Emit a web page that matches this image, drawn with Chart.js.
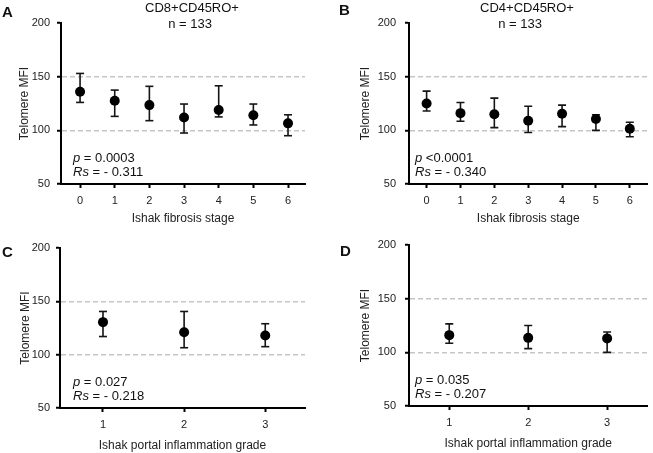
<!DOCTYPE html>
<html>
<head>
<meta charset="utf-8">
<script src="https://cdn.jsdelivr.net/npm/chart.js@4.4.1/dist/chart.umd.min.js"></script>
<style>
  html, body { margin: 0; padding: 0; background: #fff; }
  #wrap { position: relative; width: 653px; height: 453px; overflow: hidden; }
  .panel { position: absolute; }
</style>
</head>
<body>
<div id="wrap">
  <div class="panel" style="left:0px;top:0px"><canvas id="chartA" width="326" height="226"></canvas></div>
  <div class="panel" style="left:326px;top:0px"><canvas id="chartB" width="327" height="226"></canvas></div>
  <div class="panel" style="left:0px;top:226px"><canvas id="chartC" width="326" height="227"></canvas></div>
  <div class="panel" style="left:326px;top:226px"><canvas id="chartD" width="327" height="227"></canvas></div>
</div>
<script>
// --- data ---
const fibrosisStages = [0, 1, 2, 3, 4, 5, 6];
const inflammationGrades = [1, 2, 3];
const yTicks = [50, 100, 150, 200];
const refLines = [100, 150];

// A: CD8+CD45RO+ vs fibrosis stage
const cd8StageMean = [136, 127.5, 123.5, 112, 119, 114, 106.5];
const cd8StageLow  = [126, 113, 109, 97.5, 112.5, 105, 95];
const cd8StageHigh = [153, 137.5, 141, 124.5, 141.5, 124.5, 114.5];

// B: CD4+CD45RO+ vs fibrosis stage
const cd4StageMean = [125, 116, 115, 109, 115.5, 110.5, 101.5];
const cd4StageLow  = [118, 108.5, 102.5, 98, 103.5, 100, 94];
const cd4StageHigh = [136.5, 126, 130, 122.5, 123.5, 114.5, 107.5];

// C: CD8+CD45RO+ vs portal inflammation grade
const cd8GradeMean = [130.5, 121, 118];
const cd8GradeLow  = [117, 106.5, 107.5];
const cd8GradeHigh = [140.5, 140.5, 129];

// D: CD4+CD45RO+ vs portal inflammation grade
const cd4GradeMean = [116, 113.5, 113];
const cd4GradeLow  = [108.5, 103.5, 100];
const cd4GradeHigh = [126.5, 125, 119];

const pTexts  = ['= 0.0003', '<0.0001', '= 0.027', '= 0.035'];
const rsTexts = ['= - 0.311', '= - 0.340', '= - 0.218', '= - 0.207'];

const FONT = "'Liberation Sans', Arial, Helvetica, sans-serif";

// error bar as one broken line: low -> high, then a null to cut the segment
function errorPoints(xs, lows, highs) {
  const pts = [];
  xs.forEach((x, i) => {
    pts.push({ x: x, y: lows[i] }, { x: x, y: highs[i] }, { x: x, y: null });
  });
  return pts;
}

function drawRich(ctx, parts, x, y) {
  parts.forEach(p => {
    ctx.font = p[0] + ' 13px ' + FONT;
    ctx.fillText(p[1], x, y);
    x += ctx.measureText(p[1]).width;
  });
}

// panel letter, header and stats text
const panelText = {
  id: 'panelText',
  afterDraw(chart, args, opts) {
    const ctx = chart.ctx;
    const area = chart.chartArea;
    ctx.save();
    ctx.fillStyle = '#111';
    ctx.textAlign = 'left';
    ctx.textBaseline = 'alphabetic';
    ctx.font = 'bold 15px ' + FONT;
    ctx.fillText(opts.letter, opts.letterX, opts.letterY);

    ctx.font = '13px ' + FONT;
    ctx.textAlign = 'center';
    ctx.textBaseline = 'middle';
    (opts.header || []).forEach(h => ctx.fillText(h.text, h.x, h.y));

    ctx.textAlign = 'left';
    ctx.textBaseline = 'alphabetic';
    const sx = area.left + opts.statsDx;
    drawRich(ctx, [['italic', 'p'], ['normal', ' ' + opts.p]], sx, area.bottom - 22);
    drawRich(ctx, [['italic', 'Rs'], ['normal', ' ' + opts.rs]], sx, area.bottom - 8);
    ctx.restore();
  }
};

function makePanel(id, c) {
  return new Chart(document.getElementById(id), {
    type: 'scatter',
    data: {
      datasets: [
        {
          label: 'mean',
          data: c.xs.map((x, i) => ({ x: x, y: c.mean[i] })),
          pointRadius: 5,
          pointStyle: 'circle',
          pointBackgroundColor: '#000',
          pointBorderWidth: 0,
          showLine: false
        },
        {
          label: 'range',
          data: errorPoints(c.xs, c.low, c.high),
          showLine: true,
          spanGaps: false,
          borderColor: '#151515',
          borderWidth: 1.6,
          pointStyle: 'line',
          pointRadius: 4,
          pointBorderColor: '#151515',
          pointBorderWidth: 1.6
        }
      ]
    },
    options: {
      responsive: false,
      animation: false,
      events: [],
      layout: { padding: { top: c.padTop, right: c.padRight, left: 0, bottom: 0 } },
      plugins: {
        legend: { display: false },
        tooltip: { enabled: false },
        panelText: c.text
      },
      scales: {
        x: {
          type: 'linear',
          min: c.xMin,
          max: c.xMax,
          afterBuildTicks: s => { s.ticks = c.xs.map(v => ({ value: v })); },
          afterFit: s => { s.height = c.xHeight; },
          grid: { display: true, drawOnChartArea: false, tickLength: 4, tickWidth: 2, tickColor: '#000' },
          border: { color: '#000', width: 2 },
          ticks: { padding: 6, color: '#222', font: { family: FONT, size: 11 } },
          title: {
            display: true, text: c.xTitle, color: '#222',
            font: { family: FONT, size: 12 }, padding: { top: 0, bottom: c.xTitlePad }
          }
        },
        y: {
          min: 50,
          max: 200,
          afterBuildTicks: s => { s.ticks = yTicks.map(v => ({ value: v })); },
          afterFit: s => { s.width = c.yWidth; },
          grid: {
            color: ctx => (ctx.tick && refLines.includes(ctx.tick.value)) ? '#c6c6c6' : 'rgba(0,0,0,0)',
            lineWidth: 1.5,
            tickLength: 4, tickWidth: 2, tickColor: '#000'
          },
          border: { color: '#000', width: 2, dash: [5, 3] },
          ticks: { padding: c.yTickPad, color: '#222', font: { family: FONT, size: 11 } },
          title: {
            display: true, text: 'Telomere MFI', color: '#222',
            font: { family: FONT, size: 12 }, padding: { top: c.yTitlePad, bottom: 0 }
          }
        }
      }
    },
    plugins: [panelText]
  });
}

makePanel('chartA', {
  xs: fibrosisStages, mean: cd8StageMean, low: cd8StageLow, high: cd8StageHigh,
  xMin: -0.55, xMax: 6.49, xTitle: 'Ishak fibrosis stage',
  padTop: 23, padRight: 21, yWidth: 61, yTickPad: 7, yTitlePad: 17, xHeight: 42, xTitlePad: 0,
  text: {
    letter: 'A', letterX: 2, letterY: 17, statsDx: 12, p: pTexts[0], rs: rsTexts[0],
    header: [{ text: 'CD8+CD45RO+', x: 192, y: 8 }, { text: 'n = 133', x: 190, y: 24 }]
  }
});

makePanel('chartB', {
  xs: fibrosisStages, mean: cd4StageMean, low: cd4StageLow, high: cd4StageHigh,
  xMin: -0.52, xMax: 6.52, xTitle: 'Ishak fibrosis stage',
  padTop: 23, padRight: 0, yWidth: 83, yTickPad: 9, yTitlePad: 32, xHeight: 42, xTitlePad: 0,
  text: {
    letter: 'B', letterX: 13, letterY: 15, statsDx: 6, p: pTexts[1], rs: rsTexts[1],
    header: [{ text: 'CD4+CD45RO+', x: 201, y: 8 }, { text: 'n = 133', x: 194, y: 24 }]
  }
});

makePanel('chartC', {
  xs: inflammationGrades, mean: cd8GradeMean, low: cd8GradeLow, high: cd8GradeHigh,
  xMin: 0.47, xMax: 3.49, xTitle: 'Ishak portal inflammation grade',
  padTop: 22, padRight: 21, yWidth: 60, yTickPad: 6, yTitlePad: 18, xHeight: 45, xTitlePad: 0,
  text: {
    letter: 'C', letterX: 2, letterY: 31, statsDx: 13, p: pTexts[2], rs: rsTexts[2], header: []
  }
});

makePanel('chartD', {
  xs: inflammationGrades, mean: cd4GradeMean, low: cd4GradeLow, high: cd4GradeHigh,
  xMin: 0.49, xMax: 3.51, xTitle: 'Ishak portal inflammation grade',
  padTop: 19, padRight: 0, yWidth: 83, yTickPad: 9, yTitlePad: 32, xHeight: 47, xTitlePad: 2,
  text: {
    letter: 'D', letterX: 14, letterY: 30, statsDx: 6, p: pTexts[3], rs: rsTexts[3], header: []
  }
});
</script>
</body>
</html>
